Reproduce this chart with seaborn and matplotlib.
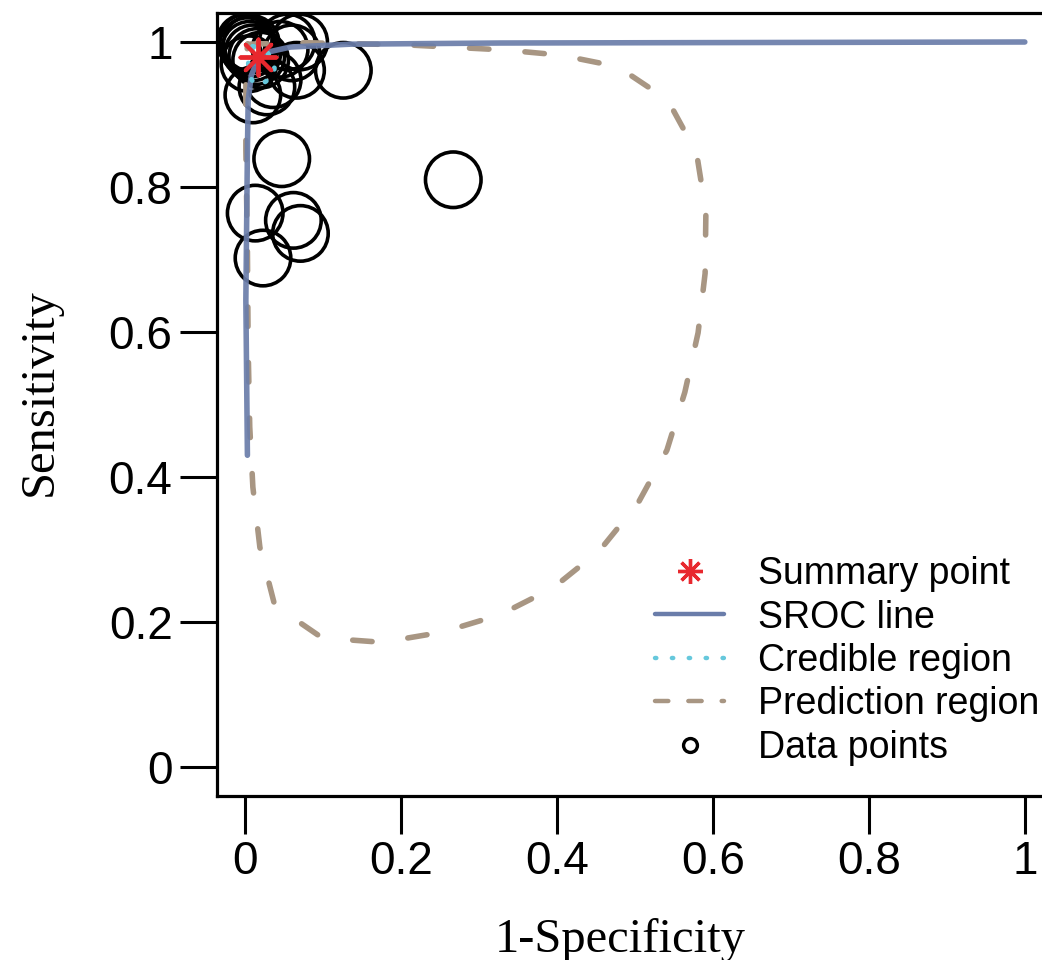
import matplotlib
matplotlib.use("Agg")
import matplotlib.pyplot as plt
from matplotlib.lines import Line2D
import seaborn as sns
import pandas as pd

# --- study data points (1-specificity, sensitivity) ---
fpr = [0.000, 0.003, 0.006, 0.010, 0.015, 0.005, 0.020, 0.045, 0.060,
       0.054, 0.070, 0.066, 0.126, 0.036, 0.028, 0.010, 0.047, 0.267,
       0.013, 0.062, 0.071, 0.023, 0.002, 0.008]
sens = [1.000, 0.995, 0.990, 0.985, 0.980, 0.970, 0.975, 0.990, 0.985,
        1.000, 1.000, 0.961, 0.961, 0.948, 0.938, 0.927, 0.839, 0.810,
        0.764, 0.754, 0.736, 0.702, 1.000, 0.998]

# --- summary point ---
summary_x = [0.017]
summary_y = [0.979]

# --- SROC curve ---
sroc_x = [0.003, 0.001, 0.003, 0.004, 0.008, 0.015, 0.029, 0.058, 0.135, 0.327, 1.0]
sroc_y = [0.430, 0.644, 0.851, 0.920, 0.954, 0.972, 0.986, 0.993, 0.997, 0.9986, 1.0]

# --- credible region ---
cred_x = [0.010, 0.026, 0.038, 0.037, 0.022, 0.012, 0.005, 0.004, 0.010]
cred_y = [0.994, 0.989, 0.972, 0.954, 0.942, 0.942, 0.954, 0.975, 0.994]

# --- prediction region ---
pred_x = [0.003, 0.079, 0.208, 0.333, 0.404, 0.478, 0.542, 0.579, 0.591, 0.590,
          0.581, 0.564, 0.541, 0.504, 0.455, 0.395, 0.327, 0.253, 0.176, 0.099,
          0.038, 0.019, 0.010, 0.006, 0.004, 0.003, 0.001, 0.001, 0.003]
pred_y = [0.997, 0.999, 0.996, 0.989, 0.982, 0.966, 0.920, 0.847, 0.766, 0.681,
          0.599, 0.517, 0.437, 0.364, 0.299, 0.247, 0.210, 0.186, 0.172, 0.178,
          0.223, 0.303, 0.386, 0.469, 0.575, 0.713, 0.851, 0.948, 0.997]

ticks = [0, 0.2, 0.4, 0.6, 0.8, 1]
tick_labels = ["0", "0.2", "0.4", "0.6", "0.8", "1"]

SROC_COL = "#6A7DAA"
PRED_COL = "#A89683"
CRED_COL = "#66C8DC"
SUM_COL = "#E8282E"

sns.set_style("white")
plt.rcParams["font.family"] = ["Liberation Sans", "DejaVu Sans"]
plt.rcParams["text.color"] = "black"

fig = plt.figure(figsize=(10.42, 9.6), dpi=100)
ax = fig.add_axes([217 / 1042, 164 / 960, (1056 - 217) / 1042, (796 - 13) / 960])

points = pd.DataFrame({"fpr": fpr, "sens": sens})
sns.scatterplot(data=points, x="fpr", y="sens", ax=ax, marker="o", s=40 ** 2,
                fc="none", ec="black", linewidth=2.6, zorder=2)

pred = pd.DataFrame({"x": pred_x, "y": pred_y})
sns.lineplot(data=pred, x="x", y="y", ax=ax, sort=False, estimator=None,
             color=PRED_COL, lw=4, zorder=3, dashes=False)
ax.lines[-1].set_dashes((3.5, 6.5))
ax.lines[-1].set_dash_capstyle("round")

sroc = pd.DataFrame({"x": sroc_x, "y": sroc_y})
sns.lineplot(data=sroc, x="x", y="y", ax=ax, sort=False, estimator=None,
             color=SROC_COL, lw=4, alpha=0.92, zorder=4)
ax.lines[-1].set_solid_capstyle("round")

cred = pd.DataFrame({"x": cred_x, "y": cred_y})
sns.lineplot(data=cred, x="x", y="y", ax=ax, sort=False, estimator=None,
             color=CRED_COL, lw=3.5, zorder=5)
ax.lines[-1].set_dashes((0.3, 3.2))
ax.lines[-1].set_dash_capstyle("round")

sns.scatterplot(x=summary_x, y=summary_y, ax=ax, marker=(8, 2, 0), s=26 ** 2,
                color=SUM_COL, linewidth=2.8, zorder=6)

ax.set_xlim(-0.036, 1.04)
ax.set_ylim(-0.04, 1.04)
ax.set_xticks(ticks)
ax.set_xticklabels(tick_labels)
ax.set_yticks(ticks)
ax.set_yticklabels(tick_labels)
ax.tick_params(axis="both", direction="out", length=27, width=2.2,
               labelsize=33, pad=5, color="black", labelcolor="black")
ax.tick_params(axis="y", left=True)
ax.tick_params(axis="x", bottom=True)
for side in ax.spines.values():
    side.set_linewidth(2.3)
    side.set_color("black")
ax.set_xlabel("")
ax.set_ylabel("")

fig.text(620 / 1042, (960 - 952) / 960, "1-Specificity", ha="center", va="baseline",
         fontsize=35, family=["Liberation Serif", "DejaVu Serif"])
fig.text(52 / 1042, (960 - 392) / 960, "Sensitivity", ha="center", va="baseline",
         rotation=90, rotation_mode="anchor", fontsize=35,
         family=["Liberation Serif", "DejaVu Serif"])

handles = [
    Line2D([], [], ls="none", marker=(8, 2, 0), ms=18, mew=2.4, color=SUM_COL),
    Line2D([], [], color=SROC_COL, lw=3.2),
    Line2D([], [], color=CRED_COL, lw=3.2, dashes=(0.3, 3.5), dash_capstyle="round"),
    Line2D([], [], color=PRED_COL, lw=3.2, dashes=(3, 4.5), dash_capstyle="round"),
    Line2D([], [], ls="none", marker="o", ms=10, mfc="none", mec="black", mew=2.4),
]
labels = ["Summary point", "SROC line", "Credible region", "Prediction region", "Data points"]
ax.legend(handles, labels, loc="upper left", bbox_to_anchor=(655 / 1042, (960 - 556) / 960),
          bbox_transform=fig.transFigure, frameon=False, fontsize=27, borderpad=0,
          borderaxespad=0, handlelength=1.85, handletextpad=0.9, labelspacing=0.2)

fig.savefig("out.png", dpi=100)
